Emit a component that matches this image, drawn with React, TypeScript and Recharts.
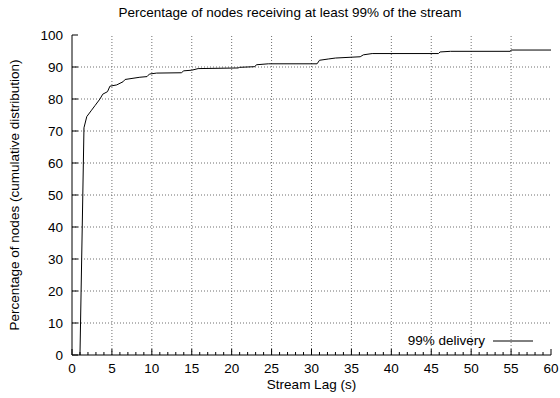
import React from "react";
import {
  LineChart,
  Line,
  XAxis,
  YAxis,
  ReferenceLine,
  Legend,
} from "recharts";

// CDF of stream lag (s) vs % of nodes
const LAG = [
  1.0, 1.5, 1.85, 2.45, 2.9, 3.5, 3.85, 4.45, 4.75, 5.6, 6.4, 6.65, 8.5, 9.4,
  9.7, 10.6, 13.7, 14, 15, 15.8, 20.8, 21, 22.9, 23.1, 24.6, 30.7, 31, 32.1, 33,
  36.1, 36.5, 37.6, 45.9, 46.1, 47.4, 54.9, 55, 60,
];
const PCT = [
  0, 71, 74.5, 76.5, 78, 80, 81.5, 82.3, 84, 84.4, 85.4, 86.1, 86.8, 87, 87.8,
  88.1, 88.2, 88.8, 89, 89.5, 89.7, 89.9, 90.1, 90.7, 91, 91, 92.1, 92.5, 92.8,
  93.2, 93.8, 94.2, 94.2, 94.7, 94.9, 94.9, 95.3, 95.3,
];

const X_MAJOR = [0, 5, 10, 15, 20, 25, 30, 35, 40, 45, 50, 55, 60];
const X_MINOR = Array.from({ length: 61 }, (_, i) => i);
const Y_MAJOR = [0, 10, 20, 30, 40, 50, 60, 70, 80, 90, 100];

const data = LAG.map((x, i) => ({ x, y: PCT[i] }));

const FONT = '"Liberation Sans", Arial, Helvetica, sans-serif';
const FS = 13.5;
const GRID = "#6f6f6f";

const BottomTick = (props: any) => {
  const { x, y, payload } = props;
  const major = payload.value % 5 === 0;
  return (
    <g>
      <line x1={x} x2={x} y1={y} y2={y - (major ? 6 : 3)} stroke="#000" />
      {major && (
        <text
          x={x}
          y={y + 13}
          textAnchor="middle"
          dominantBaseline="central"
          fontSize={FS}
          fontFamily={FONT}
          fill="#000"
        >
          {payload.value}
        </text>
      )}
    </g>
  );
};

const TopTick = (props: any) => {
  const { x, y, payload } = props;
  const major = payload.value % 5 === 0;
  return <line x1={x} x2={x} y1={y} y2={y + (major ? 6 : 3)} stroke="#000" />;
};

const LeftTick = (props: any) => {
  const { x, y, payload } = props;
  return (
    <g>
      <line x1={x} x2={x + 6} y1={y} y2={y} stroke="#000" />
      <text
        x={x - 9}
        y={y}
        textAnchor="end"
        dominantBaseline="central"
        fontSize={FS}
        fontFamily={FONT}
        fill="#000"
      >
        {payload.value}
      </text>
    </g>
  );
};

const RightTick = (props: any) => {
  const { x, y } = props;
  return <line x1={x} x2={x - 6} y1={y} y2={y} stroke="#000" />;
};

const LegendBox = ({ payload }: any) => (
  <div style={{ fontFamily: FONT, fontSize: FS }}>
    {(payload || []).map((p: any) => (
      <div
        key={p.value}
        style={{
          display: "flex",
          alignItems: "center",
          justifyContent: "flex-end",
          height: 16,
          lineHeight: "16px",
        }}
      >
        <span>{p.value}</span>
        <svg width={48} height={4}>
          <line x1={8} x2={48} y1={2} y2={2} stroke="#000" strokeWidth={1} />
        </svg>
      </div>
    ))}
  </div>
);

export default function App() {
  return (
    <div
      style={{
        position: "absolute",
        left: 0,
        top: 0,
        width: 560,
        height: 398,
        background: "#fff",
        fontFamily: FONT,
      }}
    >
      <div
        style={{
          position: "absolute",
          top: 5,
          left: 0,
          width: 580,
          textAlign: "center",
          fontSize: FS,
          lineHeight: "16px",
          color: "#000",
        }}
      >
        Percentage of nodes receiving at least 99% of the stream
      </div>
      <LineChart
        width={560}
        height={398}
        data={data}
        margin={{ top: 35, right: 9, bottom: 0, left: 0 }}
      >
        <XAxis
          dataKey="x"
          type="number"
          domain={[0, 60]}
          ticks={X_MINOR}
          interval={0}
          allowDataOverflow
          height={43}
          tickSize={0}
          tickMargin={0}
          tickLine={false}
          axisLine={{ stroke: "#000" }}
          tick={<BottomTick />}
          label={({ viewBox }: any) => (
            <text
              x={viewBox.x + viewBox.width / 2}
              y={viewBox.y + 29}
              textAnchor="middle"
              dominantBaseline="central"
              fontSize={FS}
              fontFamily={FONT}
              fill="#000"
            >
              Stream Lag (s)
            </text>
          )}
        />
        <XAxis
          xAxisId="top"
          orientation="top"
          dataKey="x"
          type="number"
          domain={[0, 60]}
          ticks={X_MINOR}
          interval={0}
          allowDataOverflow
          height={0}
          tickSize={0}
          tickMargin={0}
          tickLine={false}
          axisLine={{ stroke: "#000" }}
          tick={<TopTick />}
        />
        <YAxis
          type="number"
          domain={[0, 100]}
          ticks={Y_MAJOR}
          interval={0}
          allowDataOverflow
          width={72}
          tickSize={0}
          tickMargin={0}
          tickLine={false}
          axisLine={{ stroke: "#000" }}
          tick={<LeftTick />}
          label={({ viewBox }: any) => {
            const cy = viewBox.y + viewBox.height / 2;
            return (
              <text
                x={14}
                y={cy}
                transform={`rotate(-90 14 ${cy})`}
                textAnchor="middle"
                dominantBaseline="central"
                fontSize={FS}
                fontFamily={FONT}
                fill="#000"
              >
                Percentage of nodes (cumulative distribution)
              </text>
            );
          }}
        />
        <YAxis
          yAxisId="right"
          orientation="right"
          type="number"
          domain={[0, 100]}
          ticks={Y_MAJOR}
          interval={0}
          allowDataOverflow
          width={0}
          tickSize={0}
          tickMargin={0}
          tickLine={false}
          axisLine={{ stroke: "#000" }}
          tick={<RightTick />}
        />
        {X_MAJOR.slice(1, -1).map((v) => (
          <ReferenceLine
            key={"gx" + v}
            x={v}
            stroke={GRID}
            strokeDasharray="1 2"
          />
        ))}
        {Y_MAJOR.slice(1, -1).map((v) => (
          <ReferenceLine
            key={"gy" + v}
            y={v}
            stroke={GRID}
            strokeDasharray="1 2"
          />
        ))}
        <Line
          type="linear"
          dataKey="y"
          name="99% delivery"
          stroke="#000"
          strokeWidth={1}
          dot={false}
          isAnimationActive={false}
        />
        <Legend
          layout="vertical"
          align="center"
          verticalAlign="middle"
          wrapperStyle={{ position: "absolute", left: 385, top: 333, width: 148 }}
          content={<LegendBox />}
        />
      </LineChart>
    </div>
  );
}
